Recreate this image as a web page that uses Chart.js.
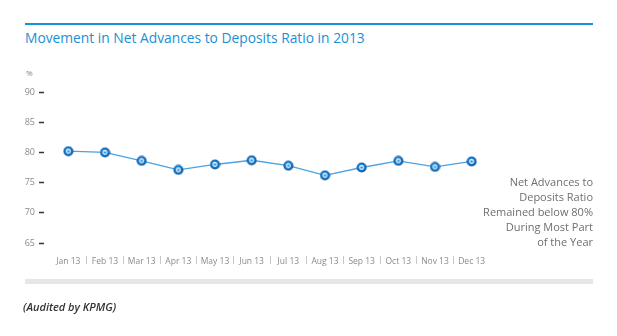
<!DOCTYPE html>
<html>
<head>
<meta charset="utf-8">
<script src="https://cdn.jsdelivr.net/npm/chart.js@4/dist/chart.umd.min.js"></script>
<style>
  html, body { margin: 0; padding: 0; background: #fff; }
  #wrap { position: relative; width: 617px; height: 336px; overflow: hidden; font-family: "Open Sans", sans-serif; }
  #chart { position: absolute; left: 0; top: 0; }
  .topline { position: absolute; left: 25px; top: 23px; width: 568px; height: 1.5px; background: #1592d8; }
  .title { position: absolute; left: 25px; top: 28px; font-size: 13.8px; color: #1b8fd6; white-space: nowrap; }
  .unit { position: absolute; left: 26px; top: 67px; font-size: 8px; color: #888; }
  .note { position: absolute; right: 24px; top: 174px; font-size: 11px; line-height: 15px; color: #6f6f6f; text-align: right; }
  .bar { position: absolute; left: 25px; top: 279px; width: 568px; height: 5px; background: #e6e6e6; }
  .foot { position: absolute; left: 23px; top: 299px; font-size: 11px; font-style: italic; font-weight: 600; color: #333; }
</style>
</head>
<body>
<div id="wrap">
  <div class="topline"></div>
  <div class="title">Movement in Net Advances to Deposits Ratio in 2013</div>
  <div class="unit">%</div>
  <canvas id="chart" width="617" height="336"></canvas>
  <div class="note">Net Advances to<br>Deposits Ratio<br>Remained below 80%<br>During Most Part<br>of the Year</div>
  <div class="bar"></div>
  <div class="foot">(Audited by KPMG)</div>
</div>
<script>
  // tháng và tỉ lệ (%)
  const months = ['Jan 13', 'Feb 13', 'Mar 13', 'Apr 13', 'May 13', 'Jun 13',
                  'Jul 13', 'Aug 13', 'Sep 13', 'Oct 13', 'Nov 13', 'Dec 13'];
  const ratio = [80.2, 80.0, 78.6, 77.1, 78.0, 78.7, 77.8, 76.2, 77.5, 78.6, 77.6, 78.5];
  const yTicks = [65, 70, 75, 80, 85, 90];

  // điểm tròn màu xanh
  function makeBead() {
    const c = document.createElement('canvas');
    c.width = 11; c.height = 11;
    const g = c.getContext('2d');
    const grad = g.createRadialGradient(4.5, 4, 0.5, 5.5, 5.5, 5.5);
    grad.addColorStop(0, '#2a9fea');
    grad.addColorStop(1, '#0a56a6');
    g.fillStyle = grad;
    g.beginPath(); g.arc(5.5, 5.5, 5, 0, Math.PI * 2); g.fill();
    g.strokeStyle = '#fff';
    g.lineWidth = 1.1;
    g.beginPath(); g.arc(5.5, 5.5, 1.9, 0, Math.PI * 2); g.stroke();
    return c;
  }
  const bead = makeBead();

  new Chart(document.getElementById('chart'), {
    type: 'line',
    data: {
      labels: months,
      datasets: [{
        data: ratio,
        borderColor: '#4aa3e2',
        borderWidth: 1.3,
        fill: false,
        tension: 0,
        pointStyle: bead,
        pointRadius: 5,
      }]
    },
    options: {
      responsive: false,
      animation: false,
      layout: { padding: { left: 25, right: 127, top: 92, bottom: 63 } },
      plugins: { legend: { display: false }, tooltip: { enabled: false } },
      scales: {
        x: {
          offset: true,
          border: { display: false },
          afterFit: axis => { axis.height = 30; },
          grid: {
            offset: true,
            drawOnChartArea: false,
            tickLength: 21,
            tickWidth: 1,
            tickBorderDash: [8, 13],
            tickBorderDashOffset: 8,
            color: ctx => (ctx.type === 'tick' && ctx.index > 0) ? '#c8c8c8' : 'rgba(0,0,0,0)',
          },
          ticks: {
            color: '#8a8a8a',
            font: { family: 'Open Sans', size: 8.5 },
            padding: -8,
            maxRotation: 0,
            autoSkip: false,
          }
        },
        y: {
          min: 65,
          max: 90,
          border: { display: false },
          afterFit: axis => { axis.width = 25; },
          afterBuildTicks: axis => { axis.ticks = yTicks.map(v => ({ value: v })); },
          grid: {
            drawOnChartArea: false,
            tickLength: 11,
            tickWidth: 1.5,
            tickColor: '#333',
            tickBorderDash: [5, 20],
          },
          ticks: {
            color: '#8a8a8a',
            font: { family: 'Open Sans', size: 9 },
            padding: 4,
          }
        }
      }
    }
  });
</script>
</body>
</html>
